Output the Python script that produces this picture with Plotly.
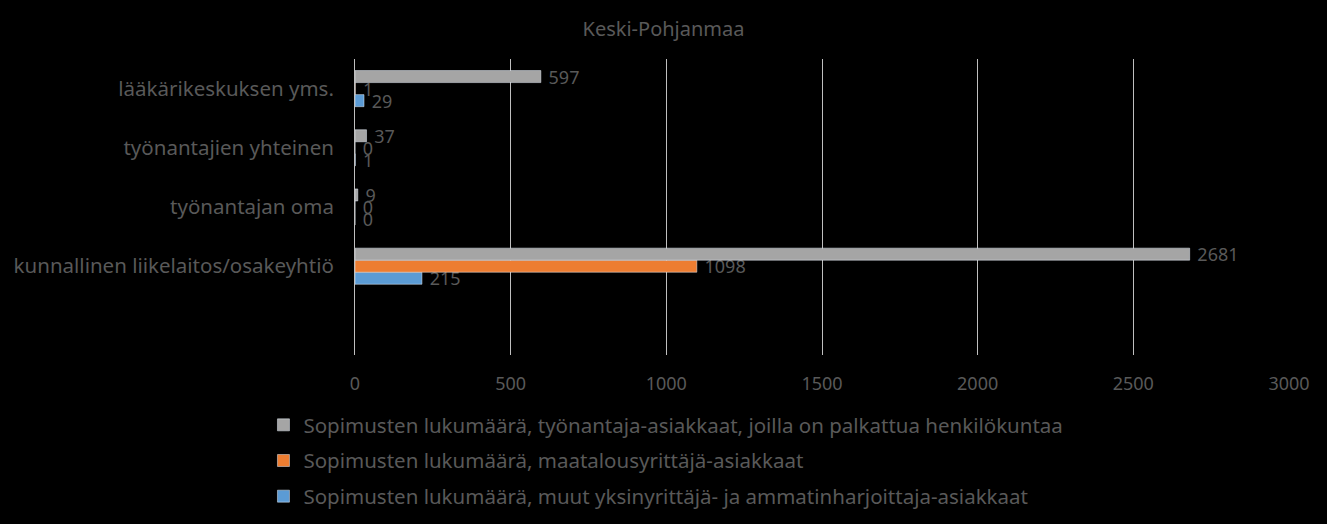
import plotly.graph_objects as go

# luokat alhaalta ylös (plotly piirtää y-akselin alhaalta)
categories = ["kunnallinen liikelaitos/osakeyhtiö", "työnantajan oma",
              "työnantajien yhteinen", "lääkärikeskuksen yms."]

series_names = ["Sopimusten lukumäärä, työnantaja-asiakkaat, joilla on palkattua henkilökuntaa",
                "Sopimusten lukumäärä, maatalousyrittäjä-asiakkaat",
                "Sopimusten lukumäärä, muut yksinyrittäjä- ja ammatinharjoittaja-asiakkaat"]
palkattu = [2681, 9, 37, 597]
maatalous = [1098, 0, 0, 1]
muut = [215, 0, 1, 29]

colors = ["#A5A5A5", "#ED7D31", "#5B9BD5"]
txt = "#595959"
font = "Noto Sans"

fig = go.Figure()
# järjestys käännetty jotta harmaa on ryhmässä ylimpänä, legendrank pitää legendan järjestyksen
series = list(zip(series_names, [palkattu, maatalous, muut], colors, [1, 2, 3]))
for name, vals, c, rank in reversed(series):
    fig.add_trace(go.Bar(
        y=categories, x=vals, name=name, orientation="h",
        marker=dict(color=c), legendgroup=name, legendrank=rank,
        texttemplate="\u00a0%{x}", textposition="outside", cliponaxis=False,
        constraintext="none",
        textfont=dict(color=txt, size=18, family=font),
    ))

fig.update_layout(
    width=1327, height=524,
    paper_bgcolor="black", plot_bgcolor="black",
    barmode="group", bargap=0.39, bargroupgap=0,
    margin=dict(l=355, r=38, t=59, b=169, autoexpand=False),
    title=dict(text="Keski-Pohjanmaa", x=0.5, xanchor="center", y=0.945, yanchor="middle",
               font=dict(color=txt, size=20, family=font)),
    font=dict(family=font, color=txt),
    showlegend=True,
    legend=dict(traceorder="grouped", orientation="v", x=-0.098, xanchor="left",
                y=-0.169, yanchor="top", tracegroupgap=6,
                font=dict(size=20.5, color=txt, family=font), bgcolor="rgba(0,0,0,0)",
                itemwidth=30),
)
fig.update_xaxes(range=[0, 3000], dtick=500, showgrid=True, gridcolor="#BFBFBF", gridwidth=1,
                 zeroline=False, showline=False, ticks="", tickfont=dict(size=18, color=txt),
                 ticklabelstandoff=16)
fig.update_yaxes(range=[-1.5, 3.5], showgrid=False, showline=True, linecolor="#BFBFBF",
                 ticks="", tickfont=dict(size=20.5, color=txt), ticklabelstandoff=16)

fig.write_html("out.html", config={"displayModeBar": False},
               post_script="document.body.style.margin='0';document.body.style.background='black';")
